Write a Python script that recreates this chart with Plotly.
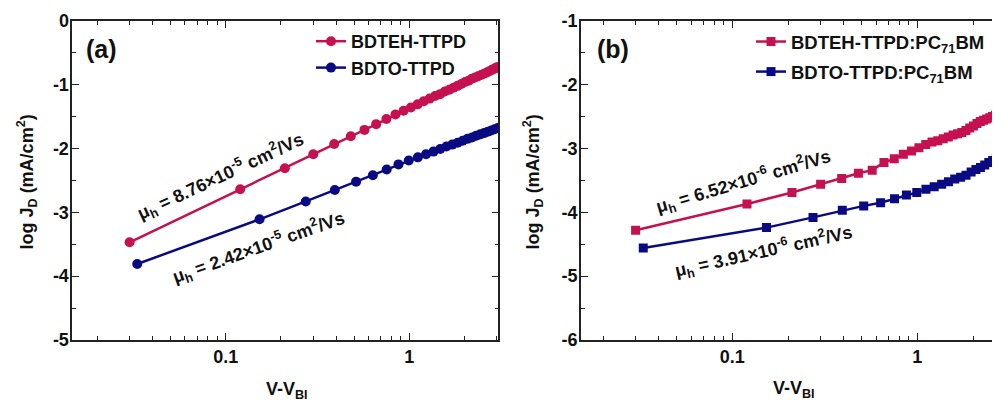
import plotly.graph_objects as go

# ---------------- data ----------------
# panel (a): pristine films (circles)
va_red = [0.03, 0.12, 0.21, 0.30, 0.39, 0.48, 0.57, 0.66, 0.75, 0.84, 0.93,
          1.02, 1.11, 1.20, 1.29, 1.38, 1.47, 1.56, 1.65, 1.74, 1.83, 1.92,
          2.01, 2.10, 2.19, 2.28, 2.37, 2.46, 2.55, 2.64, 2.73, 2.82, 2.91, 3.00, 3.09]
ja_red = [-3.47, -2.64, -2.31, -2.09, -1.93, -1.81, -1.71, -1.62, -1.54, -1.47, -1.41,
          -1.36, -1.31, -1.26, -1.22, -1.18, -1.15, -1.11, -1.08, -1.05, -1.02, -0.99,
          -0.96, -0.94, -0.91, -0.89, -0.87, -0.85, -0.83, -0.81, -0.79, -0.77, -0.75, -0.73, -0.72]

va_blue = [0.033, 0.153, 0.273, 0.393, 0.513, 0.633, 0.753, 0.873, 0.993,
           1.113, 1.233, 1.353, 1.473, 1.593, 1.713, 1.833, 1.953, 2.073, 2.193,
           2.313, 2.433, 2.553, 2.673, 2.793, 2.913, 3.033]
ja_blue = [-3.81, -3.11, -2.83, -2.65, -2.52, -2.42, -2.33, -2.25, -2.19,
           -2.14, -2.09, -2.05, -2.01, -1.97, -1.94, -1.91, -1.88, -1.85, -1.83,
           -1.80, -1.78, -1.76, -1.74, -1.72, -1.70, -1.68]

# panel (b): blends with PC71BM (squares)
vb_red = [0.03, 0.12, 0.21, 0.30, 0.39, 0.48, 0.57, 0.66, 0.75, 0.84, 0.93,
          1.02, 1.11, 1.20, 1.29, 1.38, 1.47, 1.56, 1.65, 1.74, 1.83, 1.92,
          2.01, 2.10, 2.19, 2.28, 2.37, 2.46, 2.55, 2.64, 2.73, 2.82]
jb_red = [-4.28, -3.87, -3.69, -3.56, -3.47, -3.39, -3.34, -3.22, -3.16, -3.09, -3.04,
          -2.99, -2.94, -2.90, -2.88, -2.85, -2.82, -2.79, -2.77, -2.75, -2.72, -2.68,
          -2.65, -2.61, -2.58, -2.56, -2.54, -2.52, -2.50, -2.48, -2.40, -2.36]

vb_blue = [0.033, 0.153, 0.273, 0.393, 0.513, 0.633, 0.753, 0.873, 0.993,
           1.113, 1.233, 1.353, 1.473, 1.593, 1.713, 1.833, 1.953, 2.073, 2.193,
           2.313, 2.433, 2.553, 2.673, 2.793, 2.913]
jb_blue = [-4.56, -4.24, -4.08, -3.97, -3.90, -3.85, -3.79, -3.73, -3.69,
           -3.64, -3.60, -3.56, -3.52, -3.48, -3.45, -3.42, -3.37, -3.33, -3.30,
           -3.26, -3.22, -3.19, -3.15, -3.12, -3.09]

names_a = ["BDTEH-TTPD", "BDTO-TTPD"]
names_b = ["BDTEH-TTPD:PC<sub>71</sub>BM", "BDTO-TTPD:PC<sub>71</sub>BM"]

x_tickvals = [0.1, 1]
x_ticktext = ["0.1", "1"]
ya_tickvals = [0, -1, -2, -3, -4, -5]
ya_ticktext = ["0", "-1", "-2", "-3", "-4", "-5"]
yb_tickvals = [-1, -2, -3, -4, -5, -6]
yb_ticktext = ["-1", "-2", "-3", "-4", "-5", "-6"]

RED = "#C5114F"
BLUE = "#0A0A82"
FONT = "Liberation Sans, Arial, sans-serif"
W, H = 1000, 411
OFF = 8  # page body margin offset


def px(x):
    return (x - OFF) / W


def py(y):
    return 1 - (y - OFF) / H


fig = go.Figure()

fig.add_trace(go.Scatter(x=va_red, y=ja_red, name=names_a[0], mode="lines+markers",
                         line=dict(color=RED, width=2.5),
                         marker=dict(symbol="circle", size=10, color=RED),
                         xaxis="x", yaxis="y", legend="legend", legendgroup="a1"))
fig.add_trace(go.Scatter(x=va_blue, y=ja_blue, name=names_a[1], mode="lines+markers",
                         line=dict(color=BLUE, width=2.5),
                         marker=dict(symbol="circle", size=10, color=BLUE),
                         xaxis="x", yaxis="y", legend="legend", legendgroup="a2"))
fig.add_trace(go.Scatter(x=vb_red, y=jb_red, name=names_b[0], mode="lines+markers",
                         line=dict(color=RED, width=2.5),
                         marker=dict(symbol="square", size=9, color=RED),
                         xaxis="x2", yaxis="y2", legend="legend2", legendgroup="b1"))
fig.add_trace(go.Scatter(x=vb_blue, y=jb_blue, name=names_b[1], mode="lines+markers",
                         line=dict(color=BLUE, width=2.5),
                         marker=dict(symbol="square", size=9, color=BLUE),
                         xaxis="x2", yaxis="y2", legend="legend2", legendgroup="b2"))

tickfont = dict(family=FONT, size=18, color="#111", weight="bold")
axis_common = dict(showline=True, linecolor="#222", linewidth=1.6,
                   ticks="inside", ticklen=7, tickwidth=1.3, tickcolor="#222",
                   showgrid=False, zeroline=False, tickfont=tickfont, automargin=False)
minor_x = dict(ticks="inside", ticklen=4, tickwidth=1.2, tickcolor="#222",
               dtick="D1", showgrid=False)
minor_y = dict(ticks="inside", ticklen=4, tickwidth=1.2, tickcolor="#222",
               dtick=0.5, tick0=0, showgrid=False)

ydom = [py(340), py(20.7)]

fig.update_layout(
    width=W, height=H,
    margin=dict(l=0, r=0, t=0, b=0, pad=0, autoexpand=False),
    paper_bgcolor="white", plot_bgcolor="white",
    font=dict(family=FONT),
    xaxis=dict(type="log", domain=[px(72.3), px(498.3)], range=[-1.835, 0.4845],
               tickmode="array", tickvals=x_tickvals, ticktext=x_ticktext,
               minor=minor_x, mirror="ticks", anchor="y", ticklabelstandoff=0,
               **axis_common),
    yaxis=dict(domain=ydom, range=[-5, 0],
               tickmode="array", tickvals=ya_tickvals, ticktext=ya_ticktext,
               minor=minor_y, mirror="ticks", anchor="x", ticklabelstandoff=-2,
               **axis_common),
    xaxis2=dict(type="log", domain=[px(581), 1.0], range=[-1.818, 0.490],
                tickmode="array", tickvals=x_tickvals, ticktext=x_ticktext,
                minor=minor_x, mirror="ticks", anchor="y2", ticklabelstandoff=0,
                **axis_common),
    yaxis2=dict(domain=ydom, range=[-6, -1],
                tickmode="array", tickvals=yb_tickvals, ticktext=yb_ticktext,
                minor=minor_y, mirror=False, anchor="x2", ticklabelstandoff=-2,
                **axis_common),
    legend=dict(x=px(311), y=py(23), xanchor="left", yanchor="top",
                bgcolor="rgba(0,0,0,0)", borderwidth=0, tracegroupgap=0,
                traceorder="grouped",
                font=dict(family=FONT, size=18, color="#111", weight="bold")),
    legend2=dict(x=px(751), y=py(23), xanchor="left", yanchor="top",
                 bgcolor="rgba(0,0,0,0)", borderwidth=0, tracegroupgap=3,
                 traceorder="grouped",
                 font=dict(family=FONT, size=18.5, color="#111", weight="bold")),
    showlegend=True,
)

ann_font = dict(family=FONT, size=18, color="#111", weight="bold")
title_font = dict(family=FONT, size=18, color="#111", weight="bold")
label_font = dict(family=FONT, size=25, color="#111", weight="bold")
annotations = [
    dict(text="(a)", x=px(101.7), y=py(49.3), font=label_font),
    dict(text="(b)", x=px(612.5), y=py(49), font=label_font),
    dict(text="μ<sub>h</sub> = 8.76×10<sup>-5</sup> cm<sup>2</sup>/Vs", x=px(220), y=py(176.7),
         textangle=-25, font=ann_font),
    dict(text="μ<sub>h</sub> = 2.42×10<sup>-5</sup> cm<sup>2</sup>/Vs", x=px(258), y=py(247.5),
         textangle=-19.5, font=ann_font),
    dict(text="μ<sub>h</sub> = 6.52×10<sup>-6</sup> cm<sup>2</sup>/Vs", x=px(743), y=py(182),
         textangle=-16.5, font=ann_font),
    dict(text="μ<sub>h</sub> = 3.91×10<sup>-6</sup> cm<sup>2</sup>/Vs", x=px(763), y=py(251),
         textangle=-12.5, font=ann_font),
    dict(text="log J<sub>D</sub> (mA/cm<sup>2</sup>)", x=px(27), y=py(182.5), textangle=-90, font=title_font),
    dict(text="log J<sub>D</sub> (mA/cm<sup>2</sup>)", x=px(533), y=py(182.5), textangle=-90, font=title_font),
    dict(text="V-V<sub>BI</sub>", x=px(287), y=py(390), font=title_font),
    dict(text="V-V<sub>BI</sub>", x=px(794), y=py(389), font=title_font),
]
for a in annotations:
    a.update(xref="paper", yref="paper", showarrow=False, xanchor="center", yanchor="middle")
fig.update_layout(annotations=annotations)

fig.write_html("out.html")
